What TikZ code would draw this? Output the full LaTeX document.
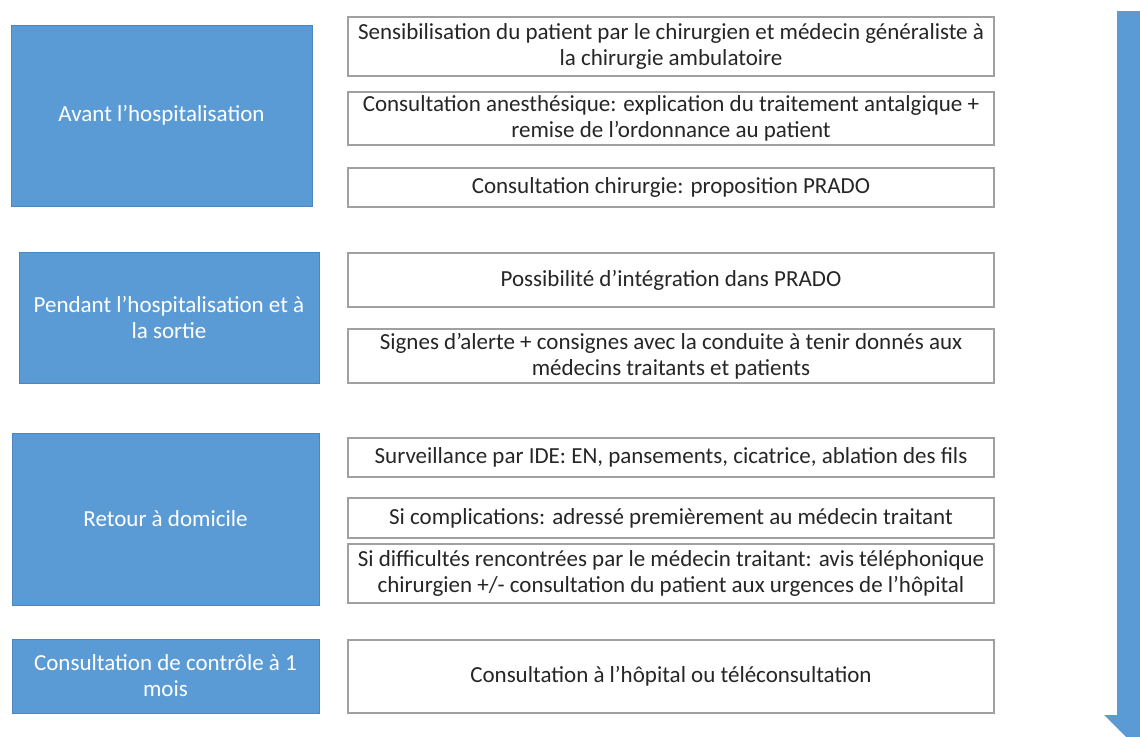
\documentclass[tikz,border=0pt]{standalone}
\usepackage{fontspec}
\setmainfont{Carlito}
\usepackage{tikz}
\usetikzlibrary{positioning}
\definecolor{phblue}{RGB}{91,155,213}
\definecolor{phedge}{RGB}{75,135,190}
\definecolor{phgray}{RGB}{160,160,160}
\definecolor{phtext}{RGB}{38,38,38}
\tikzstyle{phase} = [rectangle, fill=phblue, draw=phedge, line width=0.6pt, text=white, align=center, inner sep=2pt, font=\fontsize{23}{26}\selectfont]
\tikzstyle{action} = [rectangle, draw=phgray, fill=white, line width=1.2pt, text=phtext, align=center, minimum width=646pt, inner sep=1pt, font=\fontsize{23}{26}\selectfont]

\begin{document}
\begin{tikzpicture}[x=1pt, y=-1pt]
\useasboundingbox (0,0) rectangle (1140,736);
\clip (0,0) rectangle (1140,736);

% Avant l'hospitalisation
\node[phase, minimum width=301pt, minimum height=181pt] (avant) at (161.5,115.5) {Avant l’hospitalisation};
\node[action, minimum height=59pt] (sensib) at (671,46.5) {Sensibilisation du patient par le chirurgien et médecin généraliste à\\la chirurgie ambulatoire};
\node[action, minimum height=53pt] (anesth) at (671,118.5) {Consultation anesthésique: explication du traitement antalgique +\\remise de l’ordonnance au patient};
\node[action, minimum height=39pt] (chir) at (671,187.5) {Consultation chirurgie: proposition PRADO};

% Pendant l'hospitalisation
\node[phase, minimum width=300pt, minimum height=131pt] (pendant) at (169,317.5) {Pendant l’hospitalisation et à\\la sortie};
\node[action, minimum height=54pt] (prado) at (671,280) {Possibilité d’intégration dans PRADO};
\node[action, minimum height=54pt] (signes) at (671,356) {Signes d’alerte + consignes avec la conduite à tenir donnés aux\\médecins traitants et patients};

% Retour a domicile
\node[phase, minimum width=307pt, minimum height=172pt] (retour) at (165.5,519) {Retour à domicile};
\node[action, minimum height=39pt] (surv) at (671,457.5) {Surveillance par IDE: EN, pansements, cicatrice, ablation des fils};
\node[action, minimum height=40pt] (compl) at (671,518) {Si complications: adressé premièrement au médecin traitant};
\node[action, minimum height=59pt] (diffic) at (671,573.5) {Si difficultés rencontrées par le médecin traitant: avis téléphonique\\chirurgien +/- consultation du patient aux urgences de l’hôpital};

% Controle a 1 mois
\node[phase, minimum width=307pt, minimum height=74pt] (controle) at (165.5,676) {Consultation de contrôle à 1\\mois};
\node[action, minimum height=73pt] (hopital) at (671,676.5) {Consultation à l’hôpital ou téléconsultation};

% Time arrow
\fill[phblue] (1117,11) -- (1163,11) -- (1163,715) -- (1176,715) -- (1140,751) -- (1104,715) -- (1117,715) -- cycle;
\end{tikzpicture}
\end{document}
